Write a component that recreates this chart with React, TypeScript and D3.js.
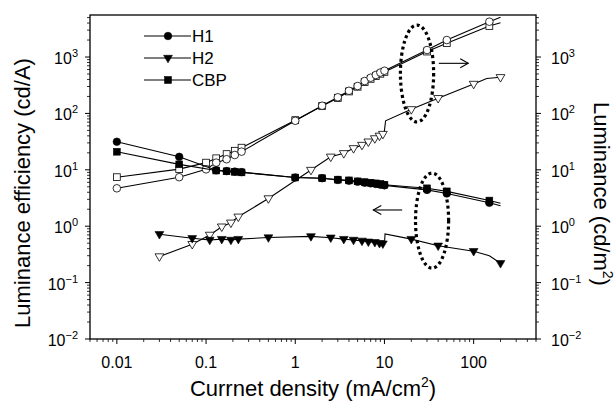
import * as d3 from 'd3';

type Pt = [number, number];

// current density (mA/cm2), value
const h1EffMarks: Pt[] = [
  [0.01, 31.5], [0.05, 17], [0.13, 9.8], [0.17, 9.5], [0.21, 9.3], [0.25, 9.1],
  [1, 7.3], [2, 7.1], [3, 6.6], [4, 6.4], [5, 6.15], [6, 5.9], [7, 5.75], [8, 5.6], [9, 5.45], [10, 5.3],
  [30, 4.4], [50, 3.8], [150, 2.6],
];
const h1EffExtra: Pt[] = [[200, 2.3]];

const cbpEffMarks: Pt[] = [
  [0.01, 20.9], [0.05, 12.5], [0.13, 9.7], [0.17, 9.4], [0.21, 9.2], [0.25, 9.0],
  [1, 7.3], [2, 7.1], [3, 6.7], [4, 6.5], [5, 6.25], [6, 6.05], [7, 5.9], [8, 5.75], [9, 5.6], [10, 5.45],
  [30, 4.7], [50, 4.15], [150, 2.85],
];
const cbpEffExtra: Pt[] = [[200, 2.55]];

const h2EffMarks: Pt[] = [
  [0.03, 0.72], [0.07, 0.61], [0.11, 0.57], [0.15, 0.59], [0.19, 0.57], [0.23, 0.59], [0.5, 0.63],
  [1.5, 0.66], [2.5, 0.625], [3.5, 0.59], [4.5, 0.57], [5.6, 0.55], [6.6, 0.53], [7.8, 0.52], [8.8, 0.5], [9.6, 0.49],
  [20, 0.59], [40, 0.45], [100, 0.36], [200, 0.22],
];
const h2EffExtra: Pt[] = [[10, 0.48], [10.15, 0.73], [150, 0.3]];

const h1LumMarks: Pt[] = [
  [0.01, 4.7], [0.05, 7.4], [0.1, 10.2], [0.13, 13.4], [0.17, 15.4], [0.21, 18.3], [0.25, 21],
  [1, 74], [2, 137], [3, 193], [4, 252], [5, 306], [6, 375], [7, 430], [8, 480], [9, 530], [10, 571],
  [30, 1330], [50, 2000], [150, 4230],
];
const h1LumExtra: Pt[] = [[200, 5060]];

const cbpLumMarks: Pt[] = [
  [0.01, 7.4], [0.05, 10.3], [0.1, 13.4], [0.13, 16], [0.17, 19], [0.21, 21.8], [0.25, 24.7],
  [1, 76], [2, 135], [3, 188], [4, 245], [5, 297], [6, 360], [7, 410], [8, 460], [9, 505], [10, 545],
  [30, 1250], [50, 1760], [150, 3550],
];
const cbpLumExtra: Pt[] = [[200, 4060]];

const h2LumMarks: Pt[] = [
  [0.03, 0.29], [0.07, 0.48], [0.11, 0.7], [0.15, 0.98], [0.19, 1.15], [0.23, 1.47], [0.5, 3.1],
  [1.5, 9.9], [2.5, 17], [3.5, 19.6], [4.5, 24], [5.6, 27.5], [6.6, 31.5], [7.8, 36], [8.8, 40], [9.6, 43],
  [20, 118], [40, 186], [100, 332], [200, 437],
];
const h2LumExtra: Pt[] = [[9.9, 44], [10.3, 74], [140, 415]];

const xTickValues = [0.01, 0.1, 1, 10, 100];
const xTickLabels = ['0.01', '0.1', '1', '10', '100'];
const yTickValues = [0.01, 0.1, 1, 10, 100, 1000];
const yTickExponents = ['\u22122', '\u22121', '0', '1', '2', '3'];

const legendNames = ['H1', 'H2', 'CBP'];
const legendShapes = ['circle', 'triangle', 'square'];

const width = 616;
const height = 403;
const margin = { top: 15, right: 80, bottom: 64, left: 90 };
const innerWidth = width - margin.left - margin.right;
const innerHeight = height - margin.top - margin.bottom;
const font = "'Liberation Sans', Arial, sans-serif";

const x = d3.scaleLog().domain([0.005, 500]).range([0, innerWidth]);
const y = d3.scaleLog().domain([0.01, 5560]).range([innerHeight, 0]);

const line = d3
  .line<Pt>()
  .x((d) => x(d[0]))
  .y((d) => y(d[1]));

// line runs through the marked points plus a few unmarked ones
const joined = (marks: Pt[], extra: Pt[]) => [...marks, ...extra].sort((a, b) => a[0] - b[0]);

function Marker({ shape, cx, cy, open }: { shape: string; cx: number; cy: number; open?: boolean }) {
  const fill = open ? '#fff' : '#000';
  const sw = open ? 0.8 : 0.6;
  if (shape === 'circle') return <circle cx={cx} cy={cy} r={3.8} fill={fill} stroke="#000" strokeWidth={sw} />;
  if (shape === 'square')
    return <rect x={cx - 3.4} y={cy - 3.4} width={6.8} height={6.8} fill={fill} stroke="#000" strokeWidth={sw} />;
  const w = 4.4;
  return (
    <path
      d={`M${cx - w},${cy - 2.7}L${cx + w},${cy - 2.7}L${cx},${cy + 4.8}Z`}
      fill={fill}
      stroke="#000"
      strokeWidth={sw}
    />
  );
}

function Series({ marks, extra, shape, open }: { marks: Pt[]; extra: Pt[]; shape: string; open?: boolean }) {
  return (
    <g>
      <path d={line(joined(marks, extra)) ?? ''} fill="none" stroke="#000" strokeWidth={1.1} />
      {marks.map((d, i) => (
        <Marker key={i} shape={shape} cx={x(d[0])} cy={y(d[1])} open={open} />
      ))}
    </g>
  );
}

function Arrow({ x1, x2, yv }: { x1: number; x2: number; yv: number }) {
  const px1 = x(x1);
  const px2 = x(x2);
  const py = y(yv);
  const dir = px2 > px1 ? -1 : 1;
  return (
    <g stroke="#000" strokeWidth={1.1} fill="none">
      <line x1={px1} y1={py} x2={px2} y2={py} />
      <path d={`M${px2 + dir * 8},${py - 4.5}L${px2},${py}L${px2 + dir * 8},${py + 4.5}`} />
    </g>
  );
}

function DottedEllipse({ x0, x1, y0, y1 }: { x0: number; x1: number; y0: number; y1: number }) {
  const cx = (x(x0) + x(x1)) / 2;
  const rx = Math.abs(x(x1) - x(x0)) / 2;
  const cy = (y(y0) + y(y1)) / 2;
  const ry = Math.abs(y(y1) - y(y0)) / 2;
  return (
    <ellipse cx={cx} cy={cy} rx={rx} ry={ry} fill="none" stroke="#000" strokeWidth={3.2} strokeDasharray="3 3" />
  );
}

export default function App() {
  const xMinor = x.ticks().filter((t) => !xTickValues.includes(t));
  const yMinor = y.ticks().filter((t) => !yTickValues.some((v) => Math.abs(v - t) / v < 1e-6));

  return (
    <div>
      <style>{'body{margin:0}'}</style>
      <svg
        width={width}
        height={height}
        viewBox={`0 0 ${width} ${height}`}
        style={{ display: 'block', background: '#fff' }}
        fontFamily={font}
      >
        <g transform={`translate(${margin.left},${margin.top})`}>
          <rect x={0} y={0} width={innerWidth} height={innerHeight} fill="none" stroke="#000" strokeWidth={1.3} />

          {xTickValues.map((t, i) => (
            <g key={t} transform={`translate(${x(t)},${innerHeight})`}>
              <line y1={0} y2={5} stroke="#000" strokeWidth={1} />
              <text y={29} textAnchor="middle" fontSize={16}>
                {xTickLabels[i]}
              </text>
            </g>
          ))}
          {xMinor.map((t) => (
            <line key={t} x1={x(t)} x2={x(t)} y1={innerHeight} y2={innerHeight + 3} stroke="#000" strokeWidth={0.8} />
          ))}

          {yTickValues.map((t, i) => (
            <g key={t} transform={`translate(0,${y(t)})`}>
              <line x1={-5} x2={0} stroke="#000" strokeWidth={1} />
              <line x1={innerWidth} x2={innerWidth + 5} stroke="#000" strokeWidth={1} />
              <text x={-12} y={7} textAnchor="end" fontSize={16}>
                10<tspan dy={-7} fontSize={11}>{yTickExponents[i]}</tspan>
              </text>
              <text x={innerWidth + 15} y={7} textAnchor="start" fontSize={16}>
                10<tspan dy={-7} fontSize={11}>{yTickExponents[i]}</tspan>
              </text>
            </g>
          ))}
          {yMinor.map((t) => (
            <g key={t}>
              <line x1={-3} x2={0} y1={y(t)} y2={y(t)} stroke="#000" strokeWidth={0.8} />
              <line x1={innerWidth} x2={innerWidth + 3} y1={y(t)} y2={y(t)} stroke="#000" strokeWidth={0.8} />
            </g>
          ))}

          {/* luminance, open symbols */}
          <Series marks={cbpLumMarks} extra={cbpLumExtra} shape="square" open />
          <Series marks={h1LumMarks} extra={h1LumExtra} shape="circle" open />
          <Series marks={h2LumMarks} extra={h2LumExtra} shape="triangle" open />

          {/* efficiency, filled symbols */}
          <Series marks={h1EffMarks} extra={h1EffExtra} shape="circle" />
          <Series marks={cbpEffMarks} extra={cbpEffExtra} shape="square" />
          <Series marks={h2EffMarks} extra={h2EffExtra} shape="triangle" />

          <DottedEllipse x0={15.1} x1={35.6} y0={3690} y1={70.5} />
          <DottedEllipse x0={22.3} x1={52.4} y0={8.77} y1={0.18} />
          <Arrow x1={40.7} x2={87} yv={773} />
          <Arrow x1={15.8} x2={7.5} yv={1.94} />

          {legendNames.map((name, i) => (
            <g key={name} transform={`translate(54,${21 + i * 22})`}>
              <line x1={0} x2={47} stroke="#000" strokeWidth={1.1} />
              <Marker shape={legendShapes[i]} cx={24} cy={0} />
              <text x={48} y={6} fontSize={17}>
                {name}
              </text>
            </g>
          ))}
        </g>

        <text x={313} y={396} textAnchor="middle" fontSize={22}>
          Currnet density (mA/cm<tspan dy={-9} fontSize={14}>2</tspan>
          <tspan dy={9}>)</tspan>
        </text>
        <text transform="translate(30,193) rotate(-90)" textAnchor="middle" fontSize={22}>
          Luminance efficiency (cd/A)
        </text>
        <text transform="translate(594,194) rotate(90)" textAnchor="middle" fontSize={22}>
          Luminance (cd/m<tspan dy={-9} fontSize={14}>2</tspan>
          <tspan dy={9}>)</tspan>
        </text>
      </svg>
    </div>
  );
}
